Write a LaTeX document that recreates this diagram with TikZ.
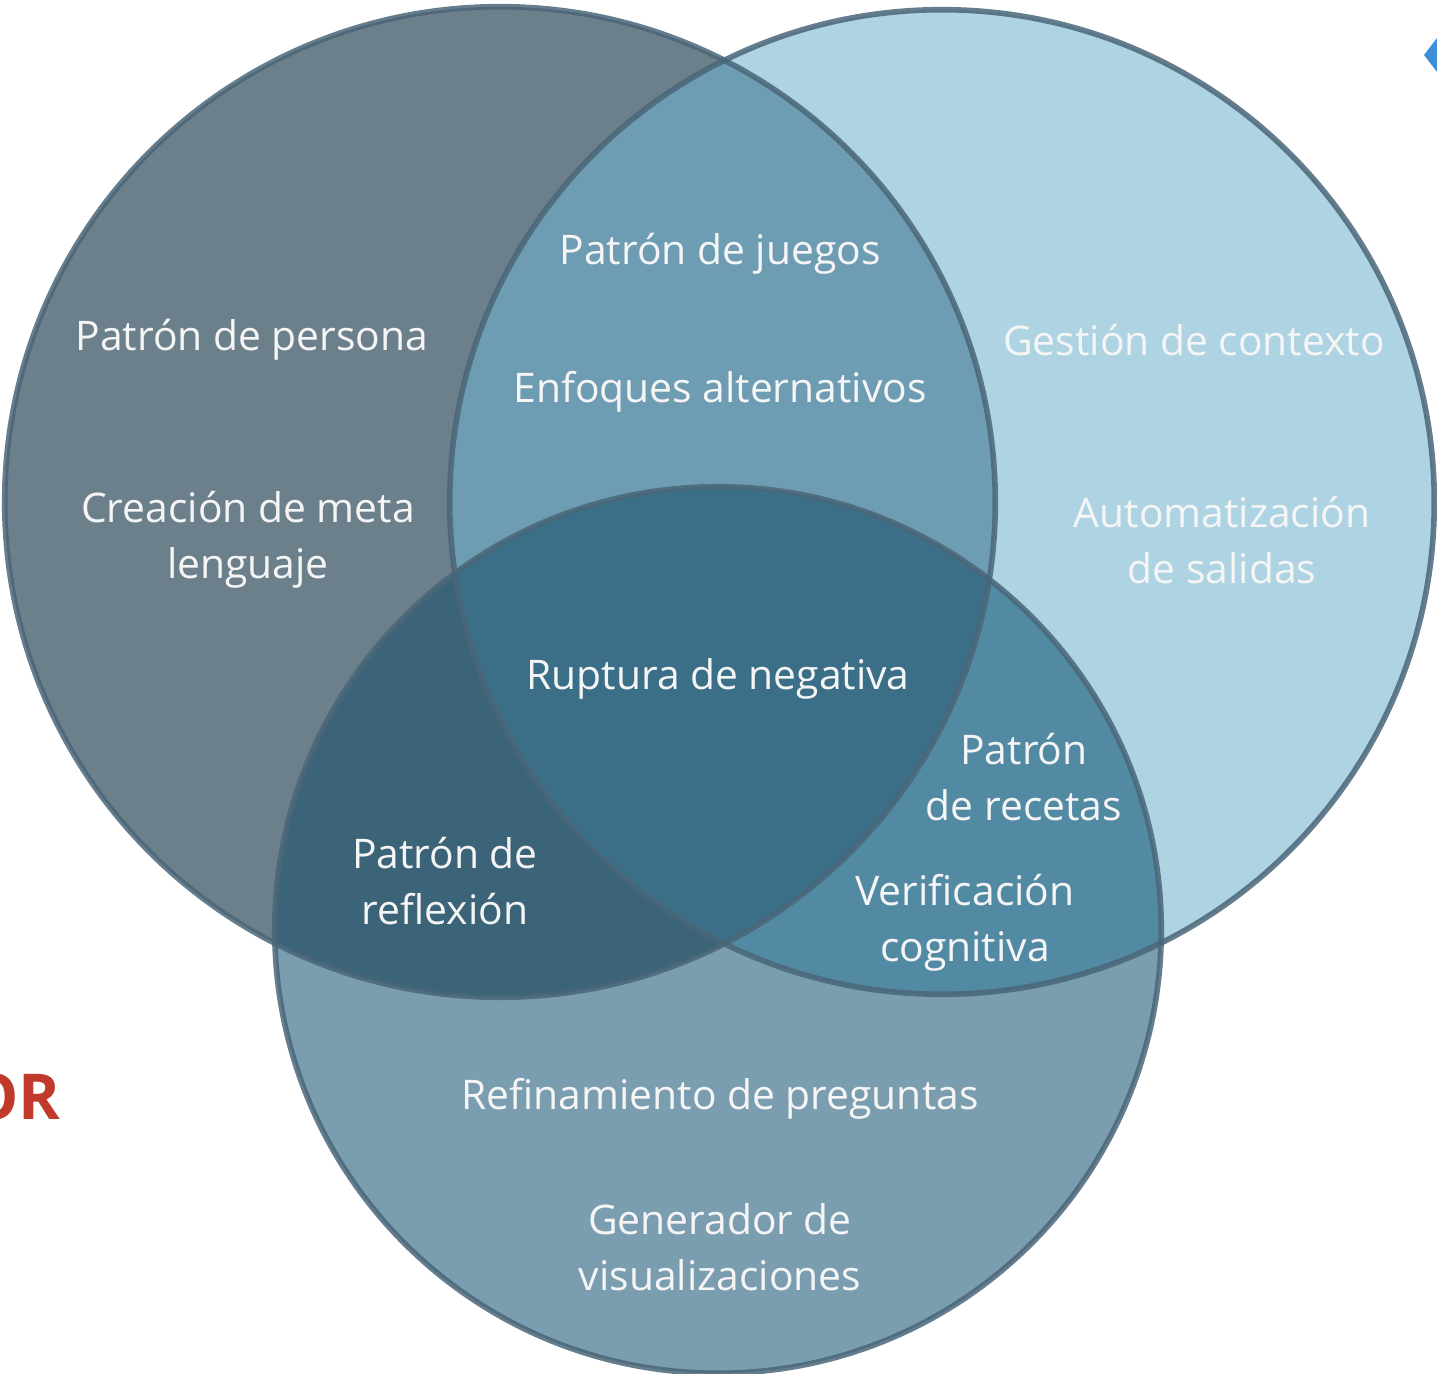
\documentclass[tikz,border=0pt]{standalone}
\usepackage{fontspec}
\setmainfont{Open Sans}
\usetikzlibrary{positioning}
\definecolor{cpersona}{HTML}{6C808C}
\definecolor{ccontexto}{HTML}{AED3E2}
\definecolor{cpreguntas}{HTML}{7A9DB0}
\definecolor{cjuegos}{HTML}{6E9DB3}
\definecolor{creflexion}{HTML}{3C6479}
\definecolor{crecetas}{HTML}{5289A3}
\definecolor{cruptura}{HTML}{3B6F87}
\definecolor{ringline}{HTML}{4A6678}
\definecolor{orred}{HTML}{C0392B}
\definecolor{arrowblue}{HTML}{3D8FD9}
\tikzset{%
	ring/.style     = {draw=ringline, line width=1.6pt, opacity=.85}, % circle outline
	label/.style    = {text=white!96!black, align=center, inner sep=0pt, font=\fontsize{11.6pt}{15.9pt}\selectfont},
	orlabel/.style  = {text=orred, inner sep=0pt, font=\fontsize{18pt}{20pt}\selectfont\bfseries},
}

\begin{document}
\begin{tikzpicture}[x=0.01cm,y=-0.01cm]
	\useasboundingbox (0,0) rectangle (1437,1374);
	\clip (0,0) rectangle (1437,1374);
	\coordinate (cP) at (500,502);
	\coordinate (cC) at (942,502);
	\coordinate (cR) at (718,930);
	
	% single circles
	\fill[cpersona] (cP) circle (4.95cm);
	\fill[ccontexto] (cC) circle (4.92cm);
	\fill[cpreguntas] (cR) circle (4.43cm);
	
	% overlaps
	\begin{scope}
		\clip (cP) circle (4.95cm);
		\fill[cjuegos] (cC) circle (4.92cm);
		\fill[creflexion] (cR) circle (4.43cm);
	\end{scope}
	\begin{scope}
		\clip (cC) circle (4.92cm);
		\fill[crecetas] (cR) circle (4.43cm);
		\clip (cR) circle (4.43cm);
		\fill[cruptura] (cP) circle (4.95cm);
	\end{scope}
	
	% outlines
	\draw[ring] (cP) circle (4.95cm);
	\draw[ring] (cC) circle (4.92cm);
	\draw[ring] (cR) circle (4.43cm);
	
	\node[label] (juegos) at (720,254) {Patrón de juegos};
	\node[label] (persona) at (252,340) {Patrón de persona};
	\node[label] (enfoques) at (720,392) {Enfoques alternativos};
	\node[label] (contexto) at (1194,340) {Gestión de contexto};
	\node[label] (metaleng) at (248,540) {Creación de meta\\lenguaje};
	\node[label] (salidas) at (1222,540) {Automatización\\de salidas};
	\node[label] (ruptura) at (718,679) {Ruptura de negativa};
	\node[label] (recetas) at (1024,777) {Patrón\\de recetas};
	\node[label] (reflexion) at (445,881) {Patrón de\\reflexión};
	\node[label] (verif) at (965,923) {Verificación\\cognitiva};
	\node[label] (refin) at (720,1099) {Refinamiento de preguntas};
	\node[label] (genviz) at (720,1247) {Generador de\\visualizaciones};
	
	\node[orlabel, anchor=east] (orword) at (61,1097) {OR};
	\fill[arrowblue] (1437,38) -- (1424,55) -- (1437,72) -- cycle;
\end{tikzpicture}
\end{document}
